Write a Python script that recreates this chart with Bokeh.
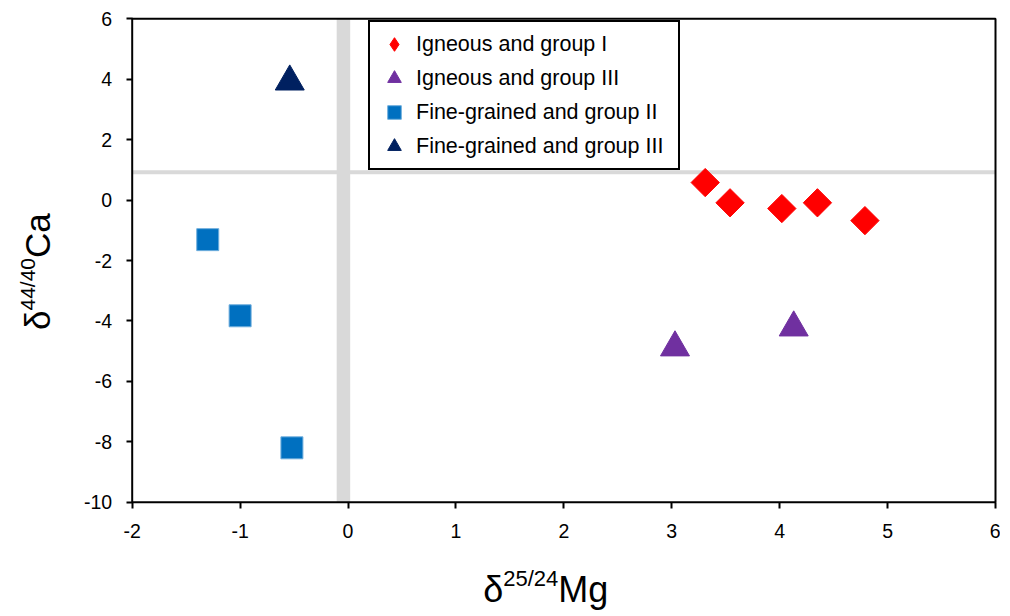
from math import pi
from bokeh.plotting import figure
from bokeh.models import BoxAnnotation, Label, Legend, LegendItem, FixedTicker, Range1d
from bokeh.embed import file_html
from bokeh.resources import INLINE

# ---- data ----
ign1_x = [3.31, 3.54, 4.02, 4.35, 4.79]
ign1_y = [0.58, -0.09, -0.28, -0.09, -0.68]
ign3_x = [3.03, 4.13]
ign3_y = [-4.88, -4.22]
fg2_x = [-1.30, -1.00, -0.52]
fg2_y = [-1.31, -3.83, -8.20]
fg3_x = [-0.54]
fg3_y = [3.92]

labels = ["Igneous and group I", "Igneous and group III",
          "Fine-grained and group II", "Fine-grained and group III"]
colors = ["#FF0000", "#7030A0", "#0070C0", "#002060"]

x_ticks = [-2, -1, 0, 1, 2, 3, 4, 5, 6]
y_ticks = [-10, -8, -6, -4, -2, 0, 2, 4, 6]
h_ref = 0.92
band_left, band_right = -0.105, 0.02

# ---- layout geometry (pixels) ----
W, H = 1000, 612
FL, FR, FT, FB = 131.7, 995.0, 18.3, 501.7
X0, X1 = x_ticks[0], x_ticks[-1]
Y0, Y1 = y_ticks[0], y_ticks[-1]
kx = (FR - FL) / (X1 - X0)
ky = (FB - FT) / (Y1 - Y0)

FONT = "Liberation Sans"

p = figure(width=W, height=H, output_backend="svg", toolbar_location=None,
           x_range=Range1d(X0 - FL / kx, X1 + (W - FR) / kx),
           y_range=Range1d(Y0 - (H - FB) / ky, Y1 + FT / ky),
           min_border=0, min_border_left=0, min_border_right=0,
           min_border_top=0, min_border_bottom=0)
p.background_fill_color = "white"
p.border_fill_color = "white"
p.outline_line_color = None
p.xgrid.visible = False
p.ygrid.visible = False

# reference lines
p.add_layout(BoxAnnotation(left=band_left, right=band_right, bottom=Y0, top=Y1,
                           fill_color="#D9D9D9", fill_alpha=1.0, line_alpha=0, level="underlay"))
p.add_layout(BoxAnnotation(left=X0, right=X1, bottom=h_ref - 2 / ky, top=h_ref + 2 / ky,
                           fill_color="#D9D9D9", fill_alpha=1.0, line_alpha=0, level="underlay"))
# plot-area frame
p.add_layout(BoxAnnotation(left=X0, right=X1, bottom=Y0, top=Y1, fill_alpha=0,
                           line_color="black", line_alpha=1.0, line_width=2, level="annotation"))

# markers
r1 = p.scatter(ign1_x, ign1_y, marker="square", angle=pi / 4, size=20,
               fill_color=colors[0], line_color=colors[0])
r1_key = p.scatter(ign1_x, ign1_y, marker="diamond", size=28,
                   fill_color=colors[0], line_color=colors[0], visible=False)
r2 = p.scatter(ign3_x, ign3_y, marker="triangle", size=29,
               fill_color=colors[1], line_color=colors[1])
r3 = p.scatter(fg2_x, fg2_y, marker="square", size=22,
               fill_color=colors[2], line_color="#6FAEDD", line_width=1)
r4 = p.scatter(fg3_x, fg3_y, marker="triangle", size=29,
               fill_color=colors[3], line_color=colors[3])

# axes placed at the plot-area edges
p.xaxis.fixed_location = Y0
p.yaxis.fixed_location = X0
for ax in (p.xaxis[0], p.yaxis[0]):
    ax.axis_line_color = None
    ax.major_tick_line_width = 2
    ax.major_tick_line_color = "black"
    ax.major_tick_out = 6
    ax.major_tick_in = 0
    ax.minor_tick_out = 0
    ax.minor_tick_in = 0
    ax.major_label_text_font = FONT
    ax.major_label_text_font_size = "19.5px"
    ax.major_label_text_color = "black"
p.xaxis.ticker = FixedTicker(ticks=x_ticks)
p.yaxis.ticker = FixedTicker(ticks=y_ticks)
p.xaxis.major_label_overrides = {t: str(t) for t in x_ticks}
p.yaxis.major_label_overrides = {t: str(t) for t in y_ticks}
p.xaxis.major_label_standoff = 16
p.yaxis.major_label_standoff = 14


def add_label(text, size, xo, yo, align="left", angle=0):
    p.add_layout(Label(x=X0, y=Y0, x_offset=xo, y_offset=yo, text=text, text_font=FONT,
                       text_font_size=size, text_color="black", text_align=align,
                       text_baseline="alphabetic", angle=angle))


# x title: δ^{25/24}Mg
add_label("δ", "36px", 371, -87, align="right")
add_label("25/24", "22px", 371, -76, align="left")
add_label("Mg", "36px", 426, -87, align="left")

# y title: δ^{44/40}Ca (rotated)
add_label("δ", "35px", -94.3, 191.7, align="right", angle=pi / 2)
add_label("44/40", "21px", -104.3, 191.7, align="left", angle=pi / 2)
add_label("Ca", "35px", -94.3, 244.2, align="left", angle=pi / 2)

legend = Legend(items=[LegendItem(label=labels[i], renderers=[r]) for i, r in enumerate([r1_key, r2, r3, r4])],
                location=(368, H - 170), orientation="vertical", margin=0,
                border_line_color="black", border_line_alpha=1.0, border_line_width=2,
                background_fill_color="white", background_fill_alpha=1.0,
                label_text_font=FONT, label_text_font_size="21.5px", label_text_color="black",
                glyph_width=38, glyph_height=34, spacing=0, padding=5, label_standoff=3,
                label_width=257, label_height=34)
p.add_layout(legend, "center")

open("out.html", "w").write(file_html(p, INLINE))
